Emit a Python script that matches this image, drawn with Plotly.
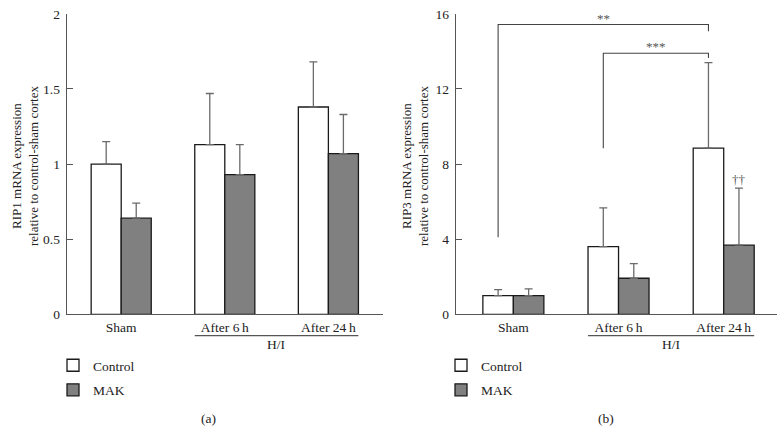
import plotly.graph_objects as go

# ---------------- data ----------------
categories = ["Sham", "After 6\u2009h", "After 24\u2009h"]
series_names = ["Control", "MAK"]

rip1_control = [1.00, 1.13, 1.38]
rip1_control_err = [0.15, 0.34, 0.30]
rip1_mak = [0.64, 0.93, 1.07]
rip1_mak_err = [0.10, 0.20, 0.26]

rip3_control = [1.00, 3.60, 8.85]
rip3_control_err = [0.32, 2.07, 4.55]
rip3_mak = [1.00, 1.92, 3.68]
rip3_mak_err = [0.35, 0.78, 3.04]

rip1_ticks = [0, 0.5, 1, 1.5, 2]
rip1_ticktext = ["0", "0.5", "1", "1.5", "2"]
rip3_ticks = [0, 4, 8, 12, 16]
rip3_ticktext = ["0", "4", "8", "12", "16"]

# significance brackets (panel b): from group, to group, left foot, height, right foot, label
brackets = [
    (0, 2, 4.1, 15.43, 15.07, "**"),
    (1, 2, 8.84, 13.9, 13.65, "***"),
]
dagger_text = "\u2020\u2020"

# ---------------- styling ----------------
FONT = "Liberation Serif, Times New Roman, serif"
FS = 13.5
fill_colors = ["#ffffff", "#808080"]
bar_w = 0.29
xs = list(range(len(categories)))
AXC = "#555555"
TXT = "#222222"

fig = go.Figure()

def add_panel(ctrl, ctrl_err, mak, mak_err, xa, ya, legend_name):
    for k, (vals, errs) in enumerate([(ctrl, ctrl_err), (mak, mak_err)]):
        fig.add_trace(go.Bar(
            x=xs, y=vals, name=series_names[k],
            width=bar_w, offset=-bar_w if k == 0 else 0,
            marker=dict(color=fill_colors[k], line=dict(color="#1a1a1a", width=1.3)),
            error_y=dict(type="data", array=errs, arrayminus=[0] * len(errs),
                         symmetric=False, color="#6a6a6a", thickness=1.3, width=4),
            xaxis=xa, yaxis=ya, legend=legend_name, showlegend=True,
            legendgroup=f"{legend_name}_{k}",
        ))

add_panel(rip1_control, rip1_control_err, rip1_mak, rip1_mak_err, "x", "y", "legend")
add_panel(rip3_control, rip3_control_err, rip3_mak, rip3_mak_err, "x2", "y2", "legend2")

ydom = [0.2741, 0.968]
common_x = dict(showline=True, linecolor=AXC, linewidth=1.2, ticks="",
                tickvals=xs, ticktext=categories, showgrid=False, zeroline=False,
                tickfont=dict(family=FONT, size=FS, color=TXT))
common_y = dict(showline=True, linecolor=AXC, linewidth=1.2, ticks="inside",
                ticklen=6, tickcolor=AXC, showgrid=False, zeroline=False,
                ticklabelstandoff=3,
                tickfont=dict(family=FONT, size=FS, color=TXT))

legend_common = dict(xanchor="left", yanchor="top", bgcolor="rgba(0,0,0,0)",
                     font=dict(family=FONT, size=FS, color=TXT),
                     tracegroupgap=4, traceorder="grouped")

fig.update_layout(
    width=784, height=433,
    margin=dict(l=0, r=0, t=0, b=0, autoexpand=False),
    paper_bgcolor="white", plot_bgcolor="white",
    font=dict(family=FONT, size=FS, color=TXT),
    hovermode=False,
    xaxis=dict(domain=[0.0851, 0.4881], range=[-0.526, 2.524], anchor="y", **common_x),
    yaxis=dict(domain=ydom, range=[0, 2], tickvals=rip1_ticks, ticktext=rip1_ticktext,
               anchor="x", **common_y),
    xaxis2=dict(domain=[0.5813, 0.9907], range=[-0.548, 2.504], anchor="y2", **common_x),
    yaxis2=dict(domain=ydom, range=[0, 16], tickvals=rip3_ticks, ticktext=rip3_ticktext,
                anchor="x2", **common_y),
    legend=dict(x=53 / 784, y=1 - 350 / 433, **legend_common),
    legend2=dict(x=441 / 784, y=1 - 350 / 433, **legend_common),
)

shapes = []
annotations = []

# H/I grouping line and label for both panels
for xa in ["x", "x2"]:
    shapes.append(dict(type="line", xref=xa, yref="paper",
                       x0=1 - bar_w, x1=2 + bar_w, y0=1 - 335.7 / 433, y1=1 - 335.7 / 433,
                       line=dict(color=AXC, width=1.2)))
    annotations.append(dict(xref=xa, yref="paper", x=1.5, y=1 - 344.5 / 433,
                            text="H/I", showarrow=False, xanchor="center", yanchor="middle",
                            font=dict(family=FONT, size=FS, color=TXT)))

# significance brackets
for g0, g1, foot0, top, foot1, label in brackets:
    xl = g0 - bar_w / 2
    xr = g1 - bar_w / 2
    shapes.append(dict(type="path", xref="x2", yref="y2",
                       path=f"M {xl},{foot0} L {xl},{top} L {xr},{top} L {xr},{foot1}",
                       line=dict(color="#444", width=1.1)))
    annotations.append(dict(xref="x2", yref="y2", x=(xl + xr) / 2, y=top,
                            text=label, showarrow=False, xanchor="center", yanchor="bottom",
                            yshift=-3, font=dict(family=FONT, size=13, color="#555")))

# dagger above MAK 24 h error bar
annotations.append(dict(xref="x2", yref="y2", x=2 + bar_w / 2,
                        y=rip3_mak[2] + rip3_mak_err[2], text=dagger_text,
                        showarrow=False, xanchor="center", yanchor="bottom", yshift=-1,
                        font=dict(family=FONT, size=13, color="#555")))

# y-axis titles
ytitle_font = dict(family=FONT, size=13, color=TXT)
annotations.append(dict(xref="paper", yref="paper", x=25 / 784, y=1 - 166 / 433,
                        text="RIP1 mRNA expression<br>relative to control-sham cortex",
                        textangle=-90, showarrow=False, xanchor="center", yanchor="middle",
                        font=ytitle_font))
annotations.append(dict(xref="paper", yref="paper", x=415 / 784, y=1 - 166 / 433,
                        text="RIP3 mRNA expression<br>relative to control-sham cortex",
                        textangle=-90, showarrow=False, xanchor="center", yanchor="middle",
                        font=ytitle_font))

# panel labels
for lbl, px in [("(a)", 208), ("(b)", 606)]:
    annotations.append(dict(xref="paper", yref="paper", x=px / 784, y=1 - 418 / 433,
                            text=lbl, showarrow=False, xanchor="center", yanchor="middle",
                            font=dict(family=FONT, size=FS, color=TXT)))

fig.update_layout(shapes=shapes, annotations=annotations)
fig.write_html("out.html",
               config={"displayModeBar": False, "staticPlot": False},
               post_script="document.body.style.margin='0px';document.body.style.padding='0px';")
